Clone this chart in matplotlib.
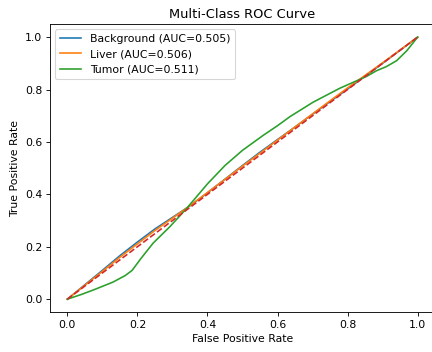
import matplotlib
matplotlib.use("Agg")
import matplotlib.pyplot as plt

# ROC curves
bg_fpr = [0, 0.05, 0.1, 0.15, 0.2, 0.25, 0.3, 0.35, 0.4, 0.45, 0.5, 0.55, 0.6, 0.65, 0.7, 0.75, 0.8, 0.85, 0.9, 0.95, 1.0]
bg_tpr = [0, 0.055, 0.11, 0.166, 0.218, 0.268, 0.312, 0.356, 0.406, 0.458, 0.51, 0.561, 0.609, 0.657, 0.706, 0.754, 0.802, 0.851, 0.9, 0.95, 1.0]

liver_fpr = [0, 0.05, 0.1, 0.15, 0.2, 0.25, 0.3, 0.35, 0.4, 0.45, 0.5, 0.55, 0.6, 0.65, 0.7, 0.75, 0.8, 0.85, 0.9, 0.95, 1.0]
liver_tpr = [0, 0.053, 0.106, 0.16, 0.211, 0.262, 0.309, 0.357, 0.407, 0.457, 0.508, 0.557, 0.607, 0.657, 0.707, 0.757, 0.806, 0.854, 0.902, 0.951, 1.0]

tumor_fpr = [0, 0.04, 0.074, 0.13, 0.165, 0.185, 0.21, 0.245, 0.293, 0.341, 0.4, 0.45, 0.5, 0.559, 0.6, 0.636, 0.702, 0.778, 0.854, 0.883, 0.91, 0.94, 0.969, 1.0]
tumor_tpr = [0, 0.018, 0.035, 0.065, 0.09, 0.11, 0.155, 0.214, 0.277, 0.347, 0.44, 0.51, 0.568, 0.625, 0.662, 0.697, 0.752, 0.805, 0.85, 0.872, 0.887, 0.91, 0.948, 1.0]

labels = ["Background (AUC=0.505)", "Liver (AUC=0.506)", "Tumor (AUC=0.511)"]

fig = plt.figure(figsize=(432 / 78, 352 / 78), dpi=78)
ax = fig.add_axes([0.1153, 0.1128, 0.892, 0.819])

ax.plot(bg_fpr, bg_tpr, label=labels[0])
ax.plot(liver_fpr, liver_tpr, label=labels[1])
ax.plot(tumor_fpr, tumor_tpr, label=labels[2])
ax.plot([0, 1], [0, 1], "--", color="tab:red")

ax.set_xlabel("False Positive Rate")
ax.set_ylabel("True Positive Rate")
ax.set_title("Multi-Class ROC Curve")
ax.legend(loc="upper left")

fig.savefig("out.png", dpi=78)
